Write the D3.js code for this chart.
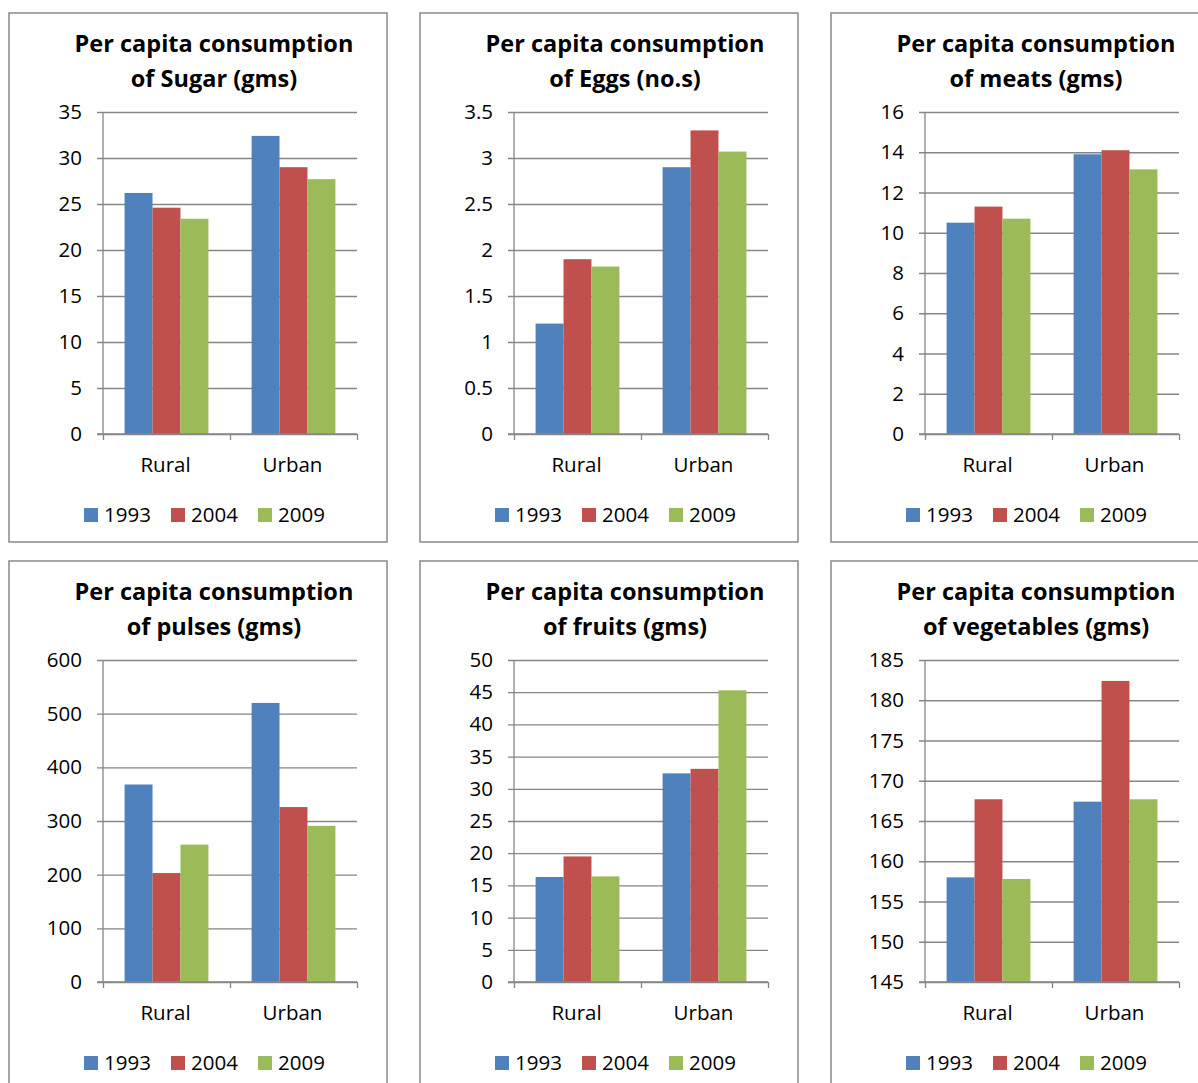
<!DOCTYPE html>
<html>
<head>
<meta charset="utf-8">
<script src="https://cdn.jsdelivr.net/npm/d3@7"></script>
<style>
  body { margin: 0; background: #fff; }
  svg text { font-family: "Open Sans", "Lato", sans-serif; }
</style>
</head>
<body>
<svg id="chart" width="1198" height="1083"></svg>
<script>
// Categories and series
var categories = ["Rural", "Urban"];
var years = ["1993", "2004", "2009"];
var yearColours = ["#4F81BD", "#C0504D", "#9BBB59"];

// Values: one row per category, one column per year
var sugarValues = [[26.2, 24.6, 23.4], [32.4, 29.0, 27.7]];
var eggValues = [[1.2, 1.9, 1.82], [2.9, 3.3, 3.07]];
var meatValues = [[10.5, 11.3, 10.7], [13.9, 14.1, 13.15]];
var pulseValues = [[368, 203, 256], [520, 326, 291]];
var fruitValues = [[16.3, 19.5, 16.4], [32.4, 33.1, 45.3]];
var vegValues = [[158.0, 167.7, 157.8], [167.4, 182.4, 167.7]];

// Tick labels for each y axis
var sugarTicks = [0, 5, 10, 15, 20, 25, 30, 35];
var eggTicks = [0, 0.5, 1, 1.5, 2, 2.5, 3, 3.5];
var meatTicks = [0, 2, 4, 6, 8, 10, 12, 14, 16];
var pulseTicks = [0, 100, 200, 300, 400, 500, 600];
var fruitTicks = [0, 5, 10, 15, 20, 25, 30, 35, 40, 45, 50];
var vegTicks = [145, 150, 155, 160, 165, 170, 175, 180, 185];

var titles = [
  ["Per capita consumption", "of Sugar (gms)"],
  ["Per capita consumption", "of Eggs (no.s)"],
  ["Per capita consumption", "of meats (gms)"],
  ["Per capita consumption", "of pulses (gms)"],
  ["Per capita consumption", "of fruits (gms)"],
  ["Per capita consumption", "of vegetables (gms)"]
];

var charts = [
  { title: titles[0], values: sugarValues, ticks: sugarTicks },
  { title: titles[1], values: eggValues, ticks: eggTicks },
  { title: titles[2], values: meatValues, ticks: meatTicks },
  { title: titles[3], values: pulseValues, ticks: pulseTicks },
  { title: titles[4], values: fruitValues, ticks: fruitTicks },
  { title: titles[5], values: vegValues, ticks: vegTicks }
];

// Panel layout
var panelW = 378, panelH = 529;
var panelX = [9, 420, 831], panelY = [13, 561];
var plotLeft = 94, plotRight = 348, plotTop = 99, plotBottom = 421;
var gridColour = "#868686";
var labelSize = "20.5px";

var svg = d3.select("#chart");

charts.forEach(function (c, i) {
  var px = panelX[i % 3], py = panelY[Math.floor(i / 3)];
  var g = svg.append("g").attr("transform", "translate(" + px + "," + py + ")");

  // panel border
  g.append("rect")
    .attr("x", 0).attr("y", 0)
    .attr("width", panelW).attr("height", panelH)
    .attr("fill", "#fff")
    .attr("stroke", "#898989")
    .attr("stroke-width", 1.5);

  // title, two lines
  g.selectAll(".title")
    .data(c.title)
    .enter()
    .append("text")
    .attr("x", 205)
    .attr("y", function (d, k) { return 31 + k * 35; })
    .attr("dy", "0.35em")
    .style("text-anchor", "middle")
    .style("font-weight", "bold")
    .style("font-size", "23.5px")
    .attr("fill", "#000")
    .text(function (d) { return d; });

  var y = d3.scaleLinear()
    .domain([c.ticks[0], c.ticks[c.ticks.length - 1]])
    .range([plotBottom, plotTop]);

  var x0 = d3.scaleBand()
    .domain(categories)
    .range([plotLeft, plotRight])
    .paddingInner(0.34)
    .paddingOuter(0.17);

  var x1 = d3.scaleBand()
    .domain(years)
    .range([0, x0.bandwidth()]);

  // gridlines + y axis ticks
  var yAxis = g.append("g")
    .attr("transform", "translate(" + plotLeft + ",0)")
    .call(d3.axisLeft(y).tickValues(c.ticks).tickSize(6).tickPadding(15)
      .tickFormat(function (d) { return d; }));
  yAxis.select(".domain").remove();
  yAxis.selectAll(".tick line")
    .attr("x1", -6).attr("x2", plotRight - plotLeft)
    .attr("stroke", gridColour).attr("stroke-width", 1.3);
  yAxis.selectAll(".tick text")
    .style("font-size", labelSize).attr("fill", "#000");

  // vertical axis line
  g.append("line")
    .attr("x1", plotLeft).attr("x2", plotLeft)
    .attr("y1", plotTop).attr("y2", plotBottom)
    .attr("stroke", gridColour).attr("stroke-width", 1.3);

  // bars
  var groups = g.selectAll(".cat")
    .data(c.values)
    .enter()
    .append("g")
    .attr("class", "cat")
    .attr("transform", function (d, k) {
      return "translate(" + x0(categories[k]) + ",0)";
    });
  groups.selectAll("rect")
    .data(function (d) { return d; })
    .enter()
    .append("rect")
    .attr("x", function (d, k) { return x1(years[k]); })
    .attr("width", x1.bandwidth())
    .attr("y", function (d) { return y(d); })
    .attr("height", function (d) { return plotBottom - y(d); })
    .attr("fill", function (d, k) { return yearColours[k]; });

  // x axis with category boundary ticks
  var xb = d3.scaleLinear().domain([0, categories.length]).range([plotLeft, plotRight]);
  var xAxis = g.append("g")
    .attr("transform", "translate(0," + plotBottom + ")")
    .call(d3.axisBottom(xb).tickValues(d3.range(categories.length + 1))
      .tickSize(6).tickFormat(""));
  xAxis.select(".domain")
    .attr("d", "M" + (plotLeft - 6) + ",0H" + plotRight)
    .attr("stroke", gridColour).attr("stroke-width", 1.3);
  xAxis.selectAll(".tick line").attr("stroke", gridColour).attr("stroke-width", 1.3);

  // category labels
  g.selectAll(".catlabel")
    .data(categories)
    .enter()
    .append("text")
    .attr("x", function (d) { return x0(d) + x0.bandwidth() / 2 - 1; })
    .attr("y", 452)
    .attr("dy", "0.35em")
    .style("text-anchor", "middle")
    .style("font-size", labelSize)
    .attr("fill", "#000")
    .text(function (d) { return d; });

  // legend
  var legend = g.selectAll(".legend")
    .data(years)
    .enter()
    .append("g")
    .attr("transform", function (d, k) { return "translate(" + (75 + k * 87) + ",502)"; });
  legend.append("rect")
    .attr("x", 0).attr("y", -7)
    .attr("width", 14).attr("height", 14)
    .attr("fill", function (d, k) { return yearColours[k]; });
  legend.append("text")
    .attr("x", 20).attr("y", 0)
    .attr("dy", "0.35em")
    .style("font-size", labelSize)
    .attr("fill", "#000")
    .text(function (d) { return d; });
});
</script>
</body>
</html>
